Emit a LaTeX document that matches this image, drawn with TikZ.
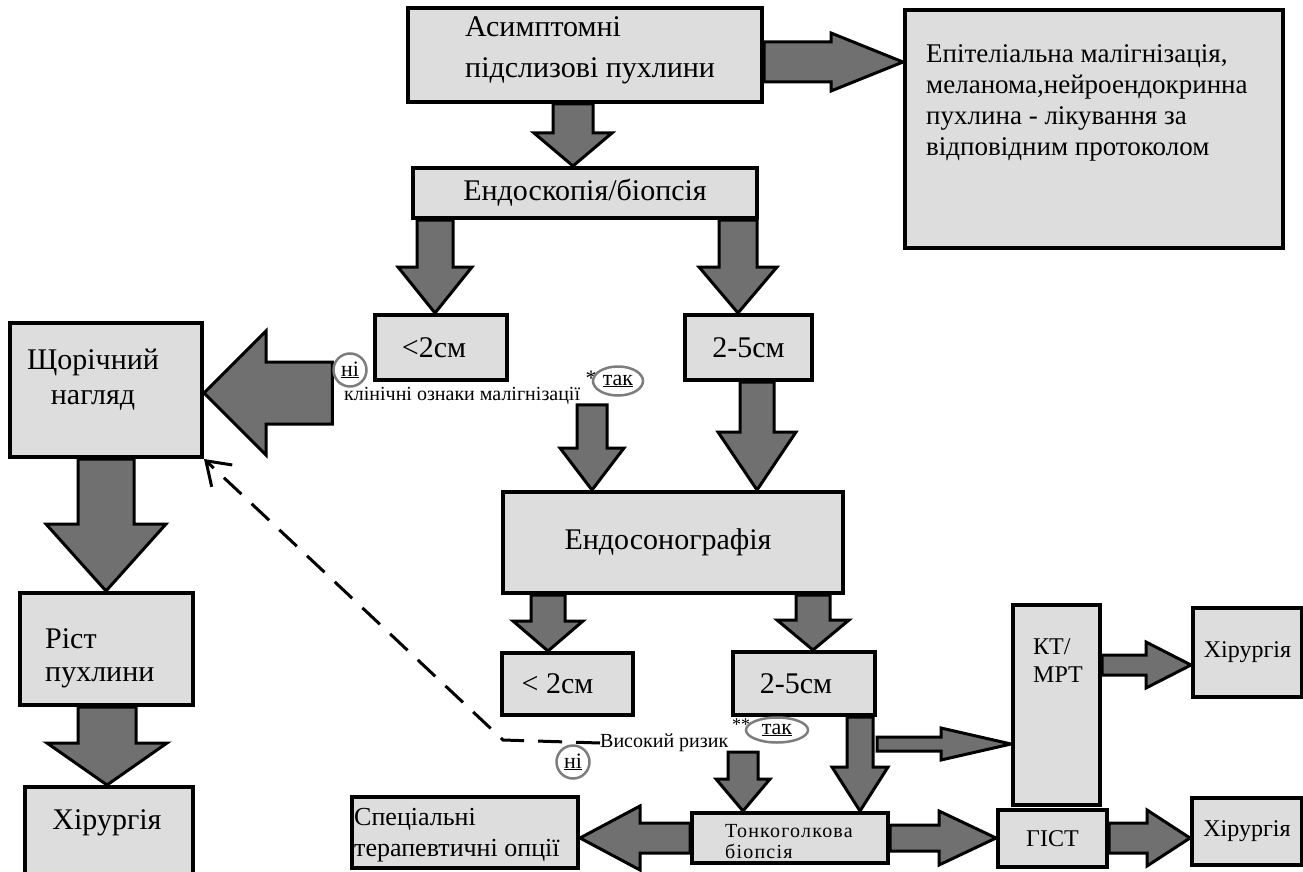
\documentclass[tikz,border=0pt]{standalone}
\usepackage{fontspec}
\setmainfont{Liberation Serif}
\usetikzlibrary{calc,arrows.meta,shapes.geometric}
\pgfdeclarelayer{bg}
\pgfsetlayers{bg,main}
\definecolor{boxgray}{RGB}{221,221,221}
\definecolor{arrgray}{RGB}{112,112,112}
\definecolor{ringgray}{RGB}{125,125,125}
\newcommand\fs[2]{\fontsize{#1}{#2}\selectfont}
\tikzset{
  box/.style={draw=black, line width=4pt, fill=boxgray, inner sep=0pt, align=center, font=\fs{30}{34}},
  txt/.style={inner sep=0pt, align=left},
  barrow/.style={draw=black, line width=3pt, fill=arrgray, line join=miter},
  ring/.style={circle, draw=ringgray, line width=2.5pt, inner sep=1pt, minimum size=33pt, font=\fs{22}{22}},
  oval/.style={ellipse, draw=ringgray, line width=2.5pt, inner sep=0pt, font=\fs{22}{22}},
  dashline/.style={draw=black, line width=3pt, dash pattern=on 24pt off 14pt},
}
% #1 start, #2 tip, #3 shaft half width, #4 head half width, #5 head length
\newcommand\blockarr[5]{%
  \coordinate (bab) at ($(#2)!#5!(#1)$);
  \draw[barrow] ($(#1)!#3!90:(#2)$) -- ($(bab)!#3!90:(#2)$) -- ($(bab)!#4!90:(#2)$) -- (#2)
    -- ($(bab)!#4!-90:(#2)$) -- ($(bab)!#3!-90:(#2)$) -- ($(#1)!#3!-90:(#2)$) -- cycle;
}
\begin{document}
\begin{tikzpicture}[x=1pt,y=-1pt]
\useasboundingbox (0,0) rectangle (1303,872);
\clip (0,0) rectangle (1303,872);

% boxes
\node[box, minimum width=354pt, minimum height=94pt] (A) at (585,55) {};
\node[txt, font=\fs{30}{41}, anchor=west] (At) at (465,50) {Асимптомні\\підслизові пухлини};
\node[box, minimum width=378pt, minimum height=238pt] (E) at (1094,129) {};
\node[txt, font=\fs{27}{31}, anchor=west] (Et) at (926,103) {Епітеліальна малігнізація,\\меланома,нейроендокринна\\пухлина - лікування за\\відповідним протоколом};
\node[box, minimum width=344pt, minimum height=50pt, font=\fs{30}{34}] (Endo) at (585,193) {Ендоскопія/біопсія};
\node[box, minimum width=132pt, minimum height=65pt] (S2a) at (441,347.5) {<2см\hspace*{14pt}};
\node[box, minimum width=127pt, minimum height=65pt] (M25a) at (748.5,347.5) {2-5см};
\node[box, minimum width=192pt, minimum height=134pt] (Y) at (106,390) {};
\node[txt, align=center, font=\fs{30}{35}] (Yt) at (93,380) {Щорічний\\нагляд};
\node[box, minimum width=340pt, minimum height=101pt] (EUS) at (673,542.5) {Ендосонографія\hspace*{10pt}};
\node[box, minimum width=131pt, minimum height=62pt] (S2b) at (567.5,684) {< 2см\hspace*{20pt}};
\node[box, minimum width=142pt, minimum height=63pt] (M25b) at (804,683.5) {2-5см\hspace*{16pt}};
\node[box, minimum width=87pt, minimum height=200pt] (KT) at (1056.5,705) {};
\node[txt, font=\fs{24}{28}, anchor=west] (KTt) at (1033,661) {КТ/\\МРТ};
\node[box, minimum width=109pt, minimum height=89pt, font=\fs{24}{28}] (H1) at (1247.5,652.5) {Хірургія};
\node[box, minimum width=109pt, minimum height=57pt, font=\fs{24}{28}] (GIST) at (1052.5,838.5) {ГІСТ};
\node[box, minimum width=110pt, minimum height=67pt, font=\fs{24}{28}] (H2) at (1247,831.5) {Хірургія};
\node[box, minimum width=196pt, minimum height=50pt] (FNB) at (790,838) {};
\node[txt, font=\fs{20}{21}\addfontfeature{LetterSpace=6}, anchor=west] (FNBt) at (725,842) {Тонкоголкова\\біопсія};
\node[box, minimum width=226pt, minimum height=71pt] (Spec) at (465,832.5) {};
\node[txt, font=\fs{26}{31}, anchor=west] (Spect) at (354,835) {Спеціальні\\терапевтичні опції};
\node[box, minimum width=173pt, minimum height=112pt] (R) at (106.5,649) {};
\node[txt, font=\fs{30}{33}, anchor=west] (Rt) at (45,658) {Ріст\\пухлини};
\node[box, minimum width=168pt, minimum height=93pt] (H3) at (109,833.5) {};
\node[txt, font=\fs{30}{34}] (H3t) at (107,823) {Хірургія};

% labels
\node[ring] (ni1) at (350,370) {\underline{ні}};
\node[txt, font=\fs{20}{20}, anchor=west] (kl) at (344,396) {клінічні ознаки малігнізації};
\node[txt, font=\fs{22}{22}] (st1) at (591,378) {*};
\node[oval, minimum width=50pt, minimum height=29pt] (tak1) at (618,381) {\underline{так}};
\node[txt, font=\fs{20}{20}, anchor=west] (risk) at (600,743) {Високий ризик};
\node[txt, font=\fs{18}{18}] (st2) at (741,725) {**};
\node[oval, minimum width=62pt, minimum height=25pt] (tak2) at (777,730) {\underline{так}};
\node[ring] (ni2) at (573,762) {\underline{ні}};

% connector end points
\coordinate (s1) at (A.east |- 0,62);    \coordinate (t1) at (E.west |- s1);
\coordinate (s2) at (A.south -| 573,0);  \coordinate (t2) at (Endo.north -| s2);
\coordinate (s3) at (Endo.south -| 435,0); \coordinate (t3) at (S2a.north -| s3);
\coordinate (s4) at (Endo.south -| 738,0); \coordinate (t4) at (M25a.north -| s4);
\coordinate (s5) at (ni1.west |- 0,393); \coordinate (t5) at (Y.east |- s5);
\coordinate (s6) at (kl.south -| 592,0); \coordinate (t6) at (EUS.north -| s6);
\coordinate (s7) at (M25a.south -| 757,0); \coordinate (t7) at (EUS.north -| s7);
\coordinate (s8) at (EUS.south -| 548,0); \coordinate (t8) at (S2b.north -| s8);
\coordinate (s9) at (EUS.south -| 813,0); \coordinate (t9) at (M25b.north -| s9);
\coordinate (s10) at (M25b.south -| 860,0); \coordinate (t10) at (FNB.north -| s10);
\coordinate (s11) at (risk.south -| 743,0); \coordinate (t11) at (FNB.north -| s11);
\coordinate (s12) at (M25b.east |- 0,744); \coordinate (t12) at (KT.west |- s12);
\coordinate (s13) at (KT.east |- 0,665); \coordinate (t13) at (H1.west |- s13);
\coordinate (s14) at (FNB.east |- 0,838); \coordinate (t14) at (GIST.west |- s14);
\coordinate (s15) at (GIST.east |- 0,838); \coordinate (t15) at (H2.west |- s15);
\coordinate (s16) at (FNB.west |- 0,838); \coordinate (t16) at (Spec.east |- s16);
\coordinate (s17) at (Y.south -| 106,0); \coordinate (t17) at (R.north -| s17);
\coordinate (s18) at (R.south -| 107,0); \coordinate (t18) at (H3.north -| s18);
\coordinate (bend) at (503,740);

\begin{pgfonlayer}{bg}
\blockarr{s1}{t1}{20pt}{29pt}{72pt}
\blockarr{s2}{t2}{20pt}{39pt}{33pt}
\blockarr{s3}{t3}{18pt}{37pt}{46pt}
\blockarr{s4}{t4}{19pt}{39pt}{46pt}
\blockarr{s5}{t5}{31pt}{62pt}{62pt}
\blockarr{s6}{t6}{15pt}{32pt}{42pt}
\blockarr{s7}{t7}{17pt}{39pt}{58pt}
\blockarr{s8}{t8}{17pt}{35pt}{30pt}
\blockarr{s9}{t9}{17pt}{36pt}{30pt}
\blockarr{s10}{t10}{13pt}{28pt}{44pt}
\blockarr{s11}{t11}{15pt}{27pt}{32pt}
\blockarr{s12}{t12}{7pt}{16pt}{70pt}
\blockarr{s13}{t13}{10pt}{23pt}{45pt}
\blockarr{s14}{t14}{13pt}{27pt}{57pt}
\blockarr{s15}{t15}{15pt}{28pt}{43pt}
\blockarr{s16}{t16}{15pt}{32pt}{60pt}
\blockarr{s17}{t17}{28pt}{60pt}{67pt}
\blockarr{s18}{t18}{29pt}{60pt}{42pt}
\end{pgfonlayer}

\draw[dashline, -{Straight Barb[length=22pt,width=30pt,line width=3pt]}] (risk.west) -- (bend) -- (Y.south east);
\end{tikzpicture}
\end{document}
